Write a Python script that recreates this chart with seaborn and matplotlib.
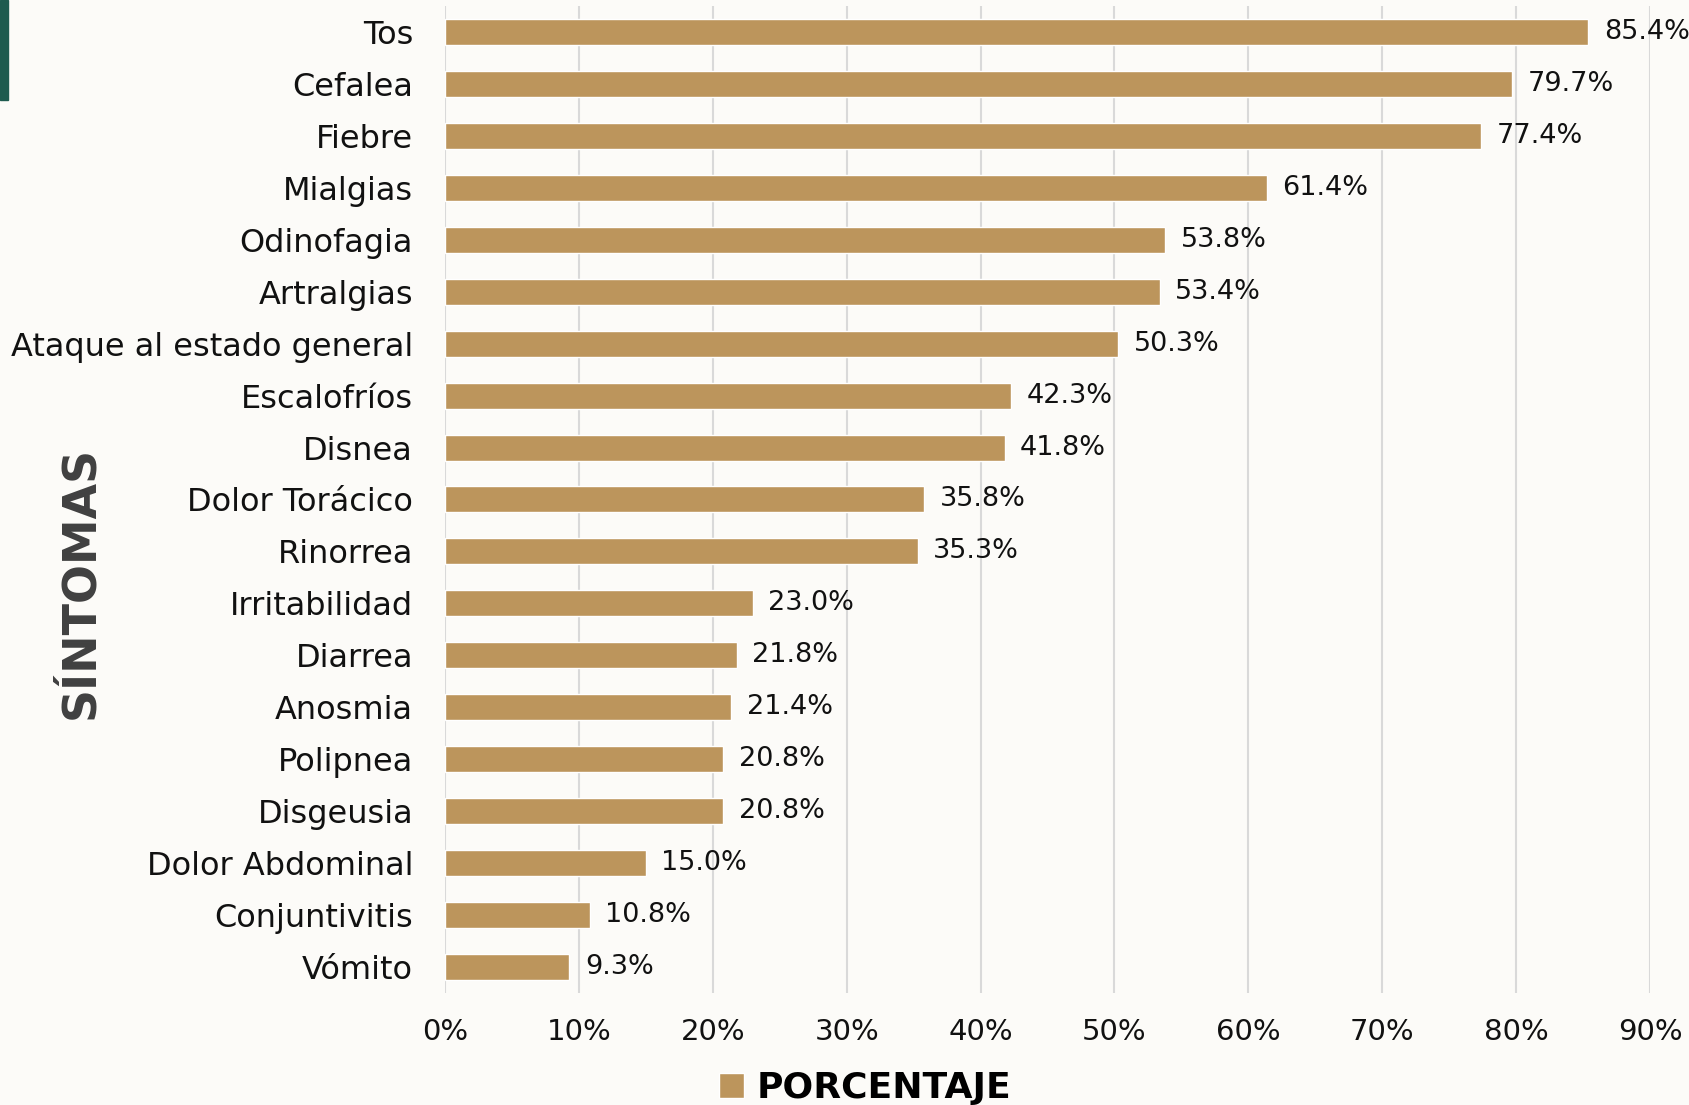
import matplotlib
matplotlib.use("Agg")
import matplotlib.pyplot as plt
import seaborn as sns
import pandas as pd
from matplotlib.patches import Rectangle

sintomas = ["Tos", "Cefalea", "Fiebre", "Mialgias", "Odinofagia", "Artralgias",
            "Ataque al estado general", "Escalofríos", "Disnea", "Dolor Torácico",
            "Rinorrea", "Irritabilidad", "Diarrea", "Anosmia", "Polipnea",
            "Disgeusia", "Dolor Abdominal", "Conjuntivitis", "Vómito"]
porcentaje = [85.4, 79.7, 77.4, 61.4, 53.8, 53.4, 50.3, 42.3, 41.8, 35.8,
              35.3, 23.0, 21.8, 21.4, 20.8, 20.8, 15.0, 10.8, 9.3]
xticks = [0, 10, 20, 30, 40, 50, 60, 70, 80, 90]

df = pd.DataFrame({"Síntoma": sintomas, "Porcentaje": porcentaje})

sns.set_theme(style="white")
plt.rcParams['font.family'] = ['DejaVu Sans']

fig = plt.figure(figsize=(16.9, 11.05), dpi=100, facecolor="#FCFBF8")
ax = fig.add_axes([0.2633, 0.1014, 0.9763 - 0.2633, 0.9946 - 0.1014])
ax.set_facecolor("none")

gold = "#BC955C"
sns.barplot(data=df, x="Porcentaje", y="Síntoma", color=gold, width=0.5,
            saturation=1, ax=ax, label="PORCENTAJE", zorder=3)

ax.set_xlim(0, 90)
ax.set_ylim(18.5, -0.5)
ax.set_xticks(xticks)
ax.set_xticklabels([f"{t}%" for t in xticks])
ax.xaxis.grid(True, color="#D9D9D9", linewidth=1.5, zorder=0)
ax.yaxis.grid(False)
for s in ax.spines.values():
    s.set_visible(False)
ax.tick_params(axis="y", length=0, pad=23, labelsize=23, labelcolor="#111111")
ax.tick_params(axis="x", length=0, pad=18, labelsize=21, labelcolor="#111111")

for c in ax.containers:
    ax.bar_label(c, labels=[f"{v:.1f}%" for v in porcentaje], padding=11,
                 fontsize=19.5, color="#111111")

ax.set_xlabel("")
ax.set_ylabel("")
fig.text(0.048, 0.473, "SÍNTOMAS", rotation=90, ha="center", va="center",
         fontsize=33, fontweight="bold", color="#404040")

if ax.get_legend() is not None:
    ax.get_legend().remove()
handles, labels = ax.get_legend_handles_labels()
leg = fig.legend(handles, labels, loc="center", bbox_to_anchor=(0.512, 0.015),
                 frameon=False, handlelength=0.7, handleheight=0.7,
                 handletextpad=0.35, prop={"size": 26, "weight": "bold"})
for t in leg.get_texts():
    t.set_color("black")

fig.patches.append(Rectangle((0, 1 - 100 / 1105), 8 / 1690, 100 / 1105,
                             transform=fig.transFigure, color="#1E5B4F"))

fig.savefig("out.png", dpi=100, facecolor=fig.get_facecolor())
